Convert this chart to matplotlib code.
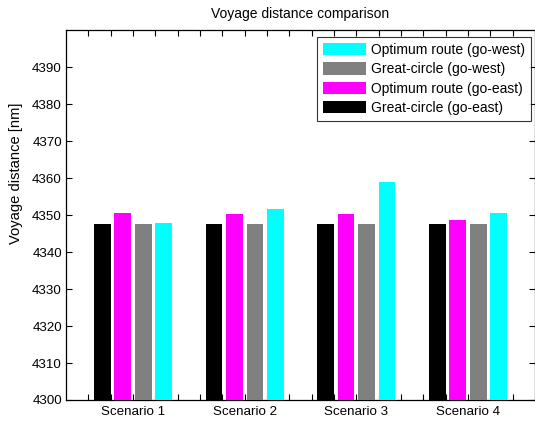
import matplotlib.pyplot as plt
import numpy as np

plt.rcParams['font.family'] = ['Liberation Sans', 'DejaVu Sans']

scenarios = ['Scenario 1', 'Scenario 2', 'Scenario 3', 'Scenario 4']
gc_east = [4347.6, 4347.6, 4347.6, 4347.6]
opt_east = [4350.6, 4350.3, 4350.3, 4348.7]
gc_west = [4347.6, 4347.6, 4347.6, 4347.6]
opt_west = [4347.9, 4351.7, 4359.0, 4350.6]

series = [
    (gc_east, 'black', 'Great-circle (go-east)'),
    (opt_east, '#ff00ff', 'Optimum route (go-east)'),
    (gc_west, '#808080', 'Great-circle (go-west)'),
    (opt_west, '#00ffff', 'Optimum route (go-west)'),
]

fig = plt.figure(figsize=(5.35, 4.21), dpi=100)
ax = fig.add_axes([0.1234, 0.0499, 0.8766, 0.8777])

x = np.arange(1, len(scenarios) + 1)
offsets = [-0.275, -0.092, 0.092, 0.275]
handles = []
for (vals, col, lab), off in zip(series, offsets):
    h = ax.bar(x + off, np.array(vals) - 4300, width=0.15, bottom=4300,
               color=col, label=lab, zorder=3)
    handles.append(h)

ax.set_xlim(0.4, 4.6)
ax.set_ylim(4300, 4400)

# every 0.2 gets a tick, only the integer positions get a label
xt = np.round(np.arange(0.6, 4.41, 0.2), 1)
xl = [scenarios[int(v) - 1] if abs(v - round(v)) < 1e-6 else '' for v in xt]
ax.set_xticks(xt)
ax.set_xticklabels(xl, fontsize=9.6)
ax.set_yticks(np.arange(4300, 4391, 10))
ax.tick_params(direction='in', length=4, width=0.8, top=True, right=True,
               labelsize=9.6, pad=3)
ax.tick_params(axis='x', pad=4.5)

for s in ax.spines.values():
    s.set_linewidth(0.9)

ax.set_title('Voyage distance comparison', fontsize=10, pad=9)
ax.set_ylabel('Voyage distance [nm]', fontsize=10.6)
ax.yaxis.set_label_coords(-0.092, 0.613)

leg = ax.legend(handles[::-1], [h.get_label() for h in handles[::-1]],
                loc='upper right', bbox_to_anchor=(0.9915, 0.983),
                fontsize=10, frameon=True, fancybox=False, edgecolor='black',
                handlelength=3.07, handleheight=1.0, borderpad=0.45,
                labelspacing=0.38, handletextpad=0.36, borderaxespad=0)
leg.get_frame().set_linewidth(0.8)

fig.savefig('out.png', dpi=100)
